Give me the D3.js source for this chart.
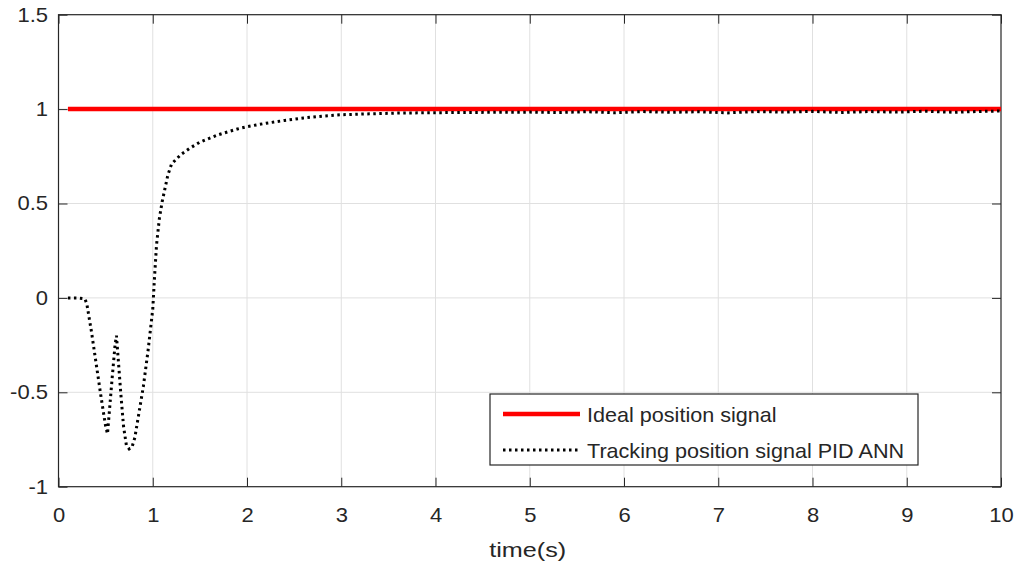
<!DOCTYPE html>
<html>
<head>
<meta charset="utf-8">
<script src="https://cdn.jsdelivr.net/npm/d3@7"></script>
<style>
  body { margin: 0; background: #fff; }
  svg text { font-family: "Liberation Sans", Arial, sans-serif; fill: #262626; }
</style>
</head>
<body>
<svg id="chart" width="1014" height="565"></svg>
<script>
// ideal signal
let idealTime = [0.1, 10];
let idealPos = [1, 1];

// tracking signal (PID ANN)
let trackTime = [0.1, 0.2, 0.28, 0.3, 0.35, 0.4, 0.45, 0.5, 0.52, 0.54, 0.57, 0.6, 0.615, 0.63, 0.66, 0.69, 0.72, 0.75, 0.78, 0.81, 0.85, 0.9, 0.95, 1.0,
  1.02, 1.04, 1.07, 1.1, 1.13, 1.16, 1.2, 1.25, 1.3, 1.4, 1.5, 1.6, 1.7, 1.8, 1.9, 2.0, 2.2, 2.4, 2.6, 2.8, 3.0, 3.3, 3.6, 4.0,
  4.3, 4.6, 5.0, 5.3, 5.6, 5.9, 6.2, 6.5, 6.8, 7.1, 7.4, 7.7, 8.0, 8.3, 8.6, 8.9, 9.2, 9.5, 9.8, 10];
let trackPos = [0, 0, -0.005, -0.03, -0.18, -0.35, -0.52, -0.68, -0.72, -0.6, -0.42, -0.25, -0.2, -0.3, -0.5, -0.68, -0.78, -0.8, -0.79, -0.74, -0.62, -0.47, -0.28, -0.06,
  0.12, 0.28, 0.42, 0.51, 0.58, 0.65, 0.71, 0.735, 0.76, 0.795, 0.825, 0.845, 0.865, 0.88, 0.895, 0.907, 0.925, 0.94, 0.953, 0.963, 0.97, 0.975, 0.979, 0.981,
  0.982, 0.983, 0.984, 0.982, 0.986, 0.981, 0.987, 0.983, 0.986, 0.98, 0.987, 0.984, 0.988, 0.982, 0.987, 0.984, 0.989, 0.983, 0.988, 0.99];

let xTicks = [0, 1, 2, 3, 4, 5, 6, 7, 8, 9, 10];
let yTicks = [-1, -0.5, 0, 0.5, 1, 1.5];
let yTickLabels = ["-1", "-0.5", "0", "0.5", "1", "1.5"];

let legendLabels = ["Ideal position signal", "Tracking position signal PID ANN"];

let svg = d3.select("#chart");
let pLeft = 58.5, pRight = 1001, pTop = 14.7, pBottom = 486.7;
let stretch = 1.1; // the source text is rendered a bit wide

let x = d3.scaleLinear().domain([0, 10]).range([pLeft, pRight]);
let y = d3.scaleLinear().domain([-1, 1.5]).range([pBottom, pTop]);

// grid
let grid = svg.append("g");
grid.selectAll(".vg").data(xTicks.slice(1, -1)).enter().append("line")
  .attr("x1", d => x(d)).attr("x2", d => x(d))
  .attr("y1", pTop).attr("y2", pBottom)
  .attr("stroke", "#e0e0e0").attr("stroke-width", 1);
grid.selectAll(".hg").data(yTicks.slice(1, -1)).enter().append("line")
  .attr("y1", d => y(d)).attr("y2", d => y(d))
  .attr("x1", pLeft).attr("x2", pRight)
  .attr("stroke", "#e0e0e0").attr("stroke-width", 1);

// axes with inward ticks
let tickLen = 9;
let xAxisB = d3.axisBottom(x).tickValues(xTicks).tickSize(-tickLen).tickPadding(21).tickFormat(d3.format("d"));
let xAxisT = d3.axisTop(x).tickValues(xTicks).tickSize(-tickLen).tickFormat("");
let yAxisL = d3.axisLeft(y).tickValues(yTicks).tickSize(-tickLen).tickFormat((d, i) => yTickLabels[i]);
let yAxisR = d3.axisRight(y).tickValues(yTicks).tickSize(-tickLen).tickFormat("");

function styleAxis(g) {
  g.select(".domain").remove();
  g.selectAll("line").attr("stroke", "#262626");
  g.selectAll("text").style("font-size", "20px").attr("fill", "#262626")
    .style("font-family", "'Liberation Sans', Arial, sans-serif")
    .attr("transform", `scale(${stretch},1)`);
}

svg.append("g").attr("transform", `translate(0,${pBottom})`).call(xAxisB).call(styleAxis);
svg.append("g").attr("transform", `translate(0,${pTop})`).call(xAxisT).call(styleAxis);
svg.append("g").attr("transform", `translate(${pLeft},0)`).call(yAxisL).call(styleAxis)
  .selectAll("text").attr("x", -10.5 / stretch);
svg.append("g").attr("transform", `translate(${pRight},0)`).call(yAxisR).call(styleAxis);

svg.append("rect")
  .attr("x", pLeft).attr("y", pTop)
  .attr("width", pRight - pLeft).attr("height", pBottom - pTop)
  .attr("fill", "none").attr("stroke", "#262626").attr("stroke-width", 1.2);

// lines
let line = d3.line().x(d => x(d[0])).y(d => y(d[1]));

svg.append("path")
  .datum(idealTime.map((t, i) => [t, idealPos[i]]))
  .attr("d", line)
  .attr("fill", "none").attr("stroke", "#ff0000").attr("stroke-width", 4.5);

svg.append("path")
  .datum(trackTime.map((t, i) => [t, trackPos[i]]))
  .attr("d", line)
  .attr("fill", "none").attr("stroke", "#000").attr("stroke-width", 3)
  .attr("stroke-dasharray", "2.5,3.5");

// x label
svg.append("text")
  .attr("transform", `translate(${(pLeft + pRight) / 2 - 2},557) scale(1.2,1)`)
  .attr("text-anchor", "middle")
  .style("font-size", "21px")
  .text("time(s)");

// legend
let lg = svg.append("g").attr("transform", "translate(490,394)");
lg.append("rect").attr("width", 428).attr("height", 71)
  .attr("fill", "#fff").attr("stroke", "#262626").attr("stroke-width", 1.2);
let legendStyles = [
  { stroke: "#ff0000", width: 4.5, dash: null },
  { stroke: "#000", width: 3, dash: "2.5,3.5" }
];
legendLabels.forEach((lab, i) => {
  let yy = 20 + i * 36;
  lg.append("line").attr("x1", 13).attr("x2", 90).attr("y1", yy).attr("y2", yy)
    .attr("stroke", legendStyles[i].stroke).attr("stroke-width", legendStyles[i].width)
    .attr("stroke-dasharray", legendStyles[i].dash);
  lg.append("text")
    .attr("transform", `translate(97,${yy + 1}) scale(1.08,1)`)
    .attr("dy", "0.35em")
    .style("font-size", "20px").text(lab);
});
</script>
</body>
</html>
